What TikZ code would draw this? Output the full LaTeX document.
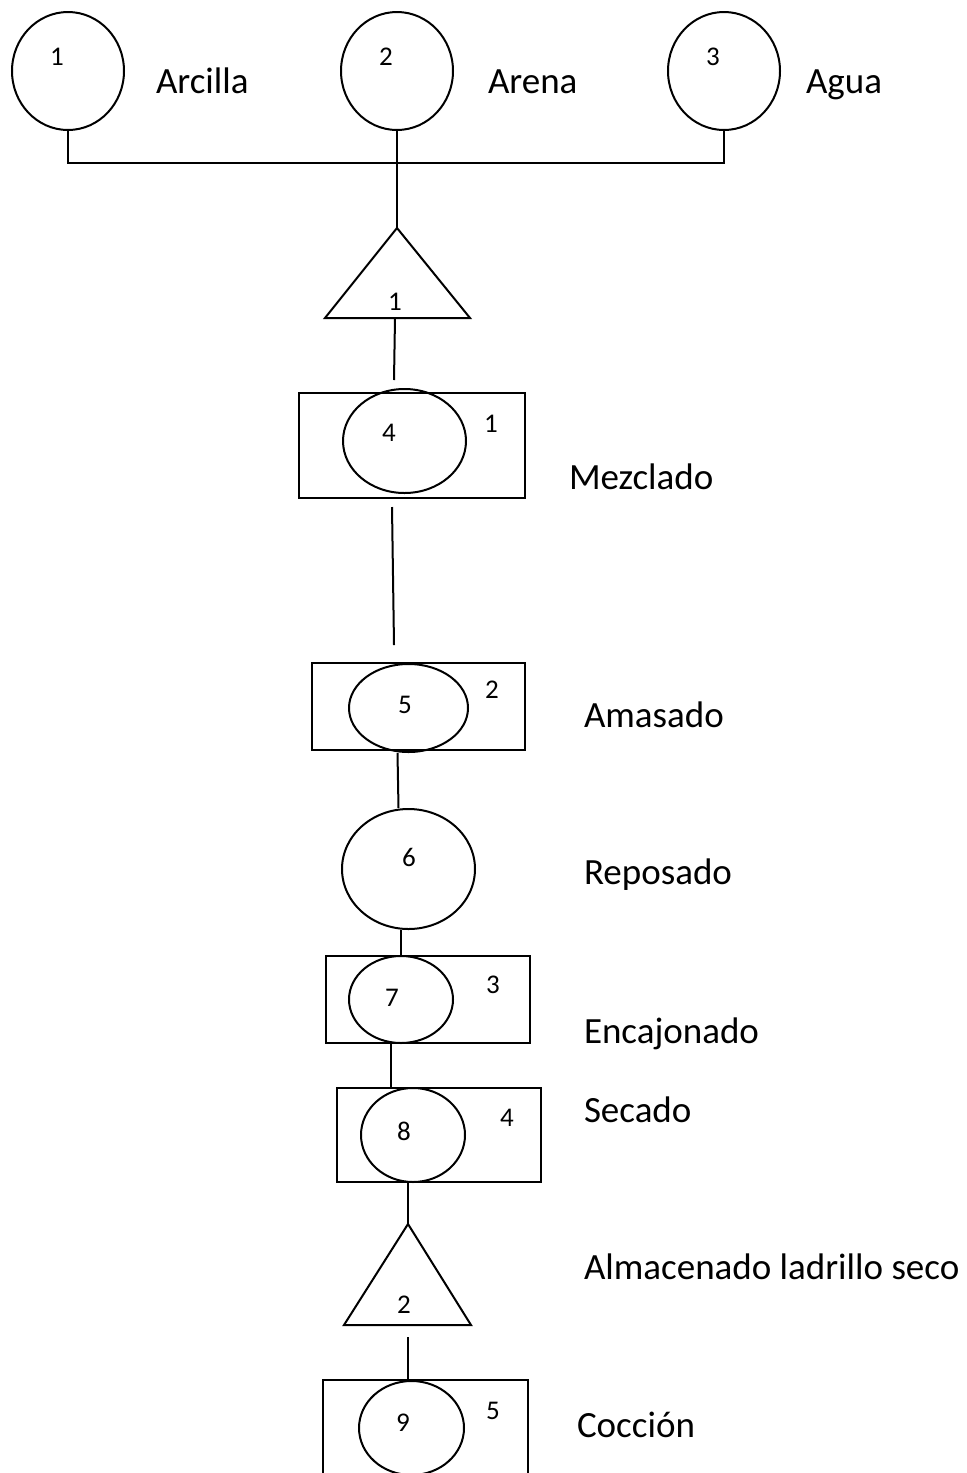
\documentclass[tikz,border=0pt]{standalone}
\usepackage{fontspec}
\setmainfont{Carlito}
\usetikzlibrary{shapes.geometric}

\tikzset{
    proc/.style={draw, ellipse, inner sep=0pt},
    boxop/.style={draw, rectangle, inner sep=0pt},
    num/.style={inner sep=0pt, font=\fontsize{13.5}{16}\selectfont},
    stage/.style={anchor=base west, inner sep=0pt, font=\fontsize{18.5}{22}\selectfont},
}

\begin{document}
\begin{tikzpicture}[x=0.5pt, y=-0.5pt, line width=1pt]
            \clip (0,0) rectangle (967,1473);

            % materias primas
            \foreach \i/\x/\lab/\tx in {1/68/Arcilla/155, 2/397/Arena/487, 3/724/Agua/805} {
                \node[proc, minimum width=56pt, minimum height=59pt] (c\i) at (\x,71) {};
                \node[num] (n\i) at (\x-11,57) {\i};
                \node[stage] (m\i) at (\tx,93) {\lab};
            }
            \coordinate (bus) at (397,163);
            \draw (c1.south) |- (bus) -| (c3.south);

            % almacen 1
            \coordinate (t1top) at (397,228);
            \coordinate (t1bot) at (395,318);
            \draw (t1top) -- ++(73,90) -- ++(-145,0) -- cycle;
            \node[num] (s1) at (395,302) {1};
            \draw (c2.south) -- (t1top);
            \coordinate (g0) at (394,380);
            \draw (t1bot) -- (g0);

            % mezclado
            \node[boxop, minimum width=113pt, minimum height=52.5pt] (b1) at (412,445.5) {};
            \node[proc, minimum width=61.5pt, minimum height=52pt] (e4) at (404.5,441) {};
            \node[num] (n4) at (389,433) {4};
            \node[num] (k1) at (491,424) {1};
            \node[stage] (m4) at (568,489) {Mezclado};
            \coordinate (g1) at (392,507);
            \coordinate (g2) at (394,645);
            \draw (g1) -- (g2);

            % amasado
            \node[boxop, minimum width=106.5pt, minimum height=43.5pt] (b2) at (418.5,706.5) {};
            \node[proc, minimum width=59.5pt, minimum height=44pt] (e5) at (408.5,708) {};
            \node[num] (n5) at (405,705) {5};
            \node[num] (k2) at (492,690) {2};
            \node[stage] (m5) at (583,727) {Amasado};

            % reposado
            \node[proc, minimum width=66.5pt, minimum height=60pt] (c6) at (408.5,869) {};
            \node[num] (n6) at (409,857) {6};
            \node[stage] (m6) at (583,884) {Reposado};
            \draw ([xshift=-5.5pt]e5.south) -- ([xshift=-5pt]c6.north);

            % encajonado
            \node[boxop, minimum width=102pt, minimum height=43.5pt] (b3) at (428,999.5) {};
            \node[proc, minimum width=52pt, minimum height=43.5pt] (e7) at (401,999.5) {};
            \node[num] (n7) at (392,998) {7};
            \node[num] (k3) at (493,985) {3};
            \node[stage] (m7) at (583,1043) {Encajonado};
            \draw (c6.south -| e7) -- (e7.north);

            % secado
            \node[boxop, minimum width=102pt, minimum height=47pt] (b4) at (439,1135) {};
            \node[proc, minimum width=52pt, minimum height=47pt] (e8) at (413,1135) {};
            \node[num] (n8) at (404,1131) {8};
            \node[num] (k4) at (507,1118) {4};
            \node[stage] (m8) at (583,1122) {Secado};
            \coordinate (j6) at ([xshift=-5pt]e7.south);
            \draw (j6) -- (j6 |- b4.north);

            % almacen 2
            \coordinate (t2top) at (408,1224);
            \draw (t2top) -- ++(63,101) -- ++(-127,0) -- cycle;
            \node[num] (s2) at (404,1305) {2};
            \node[stage] (ms) at (583,1279) {Almacenado ladrillo seco};
            \draw (t2top |- e8.south) -- (t2top);

            % coccion
            \node[boxop, minimum width=102.5pt, minimum height=50pt] (b5) at (425.5,1430) {};
            \node[proc, minimum width=52.5pt, minimum height=47pt] (e9) at (411.5,1428) {};
            \node[num] (n9) at (403,1423) {9};
            \node[num] (k5) at (493,1411) {5};
            \node[stage] (m9) at (576,1437) {Cocción};
            \coordinate (g3) at (408,1337);
            \draw (g3) -- (g3 |- b5.north);
        \end{tikzpicture}
\end{document}
